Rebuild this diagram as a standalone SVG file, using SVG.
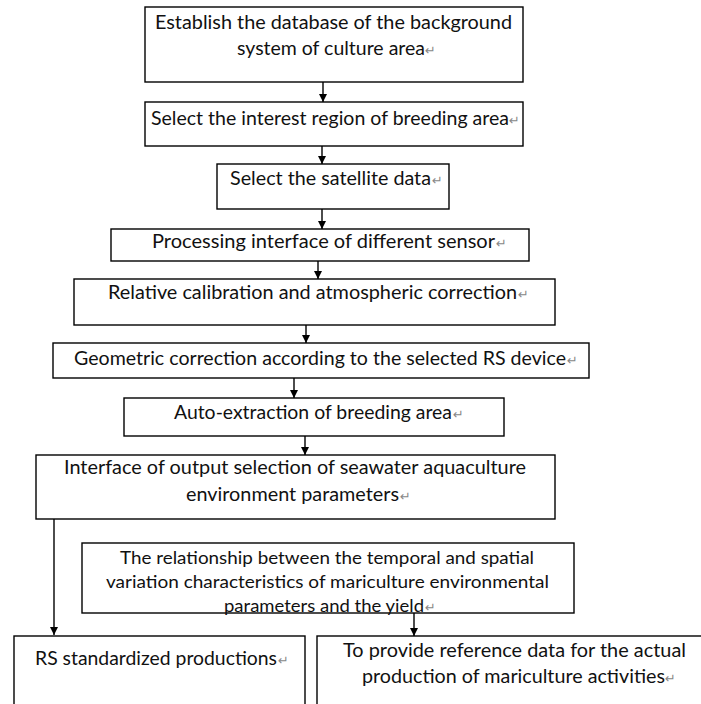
<svg xmlns="http://www.w3.org/2000/svg" width="701" height="704" viewBox="0 0 701 704">
<style>
.box{fill:#fff;stroke:#000;stroke-width:1.4}
.t{font-family:Lato,"Liberation Sans",sans-serif;font-size:19.5px;fill:#111}
.s{font-size:17.5px}
.m{font-family:"DejaVu Sans",sans-serif;font-size:13px;fill:#888}
.c{fill:none;stroke:#000;stroke-width:1.4}
</style>
<defs>
<marker id="ah" markerUnits="userSpaceOnUse" markerWidth="8" markerHeight="8" refX="8" refY="4" orient="auto">
<path d="M0,0 L8,4 L0,8 z" fill="#000"/>
</marker>
</defs>
<rect x="0" y="0" width="701" height="704" fill="#fff"/>
<g id="connectors">
<line class="c" x1="323" y1="82" x2="323" y2="102" marker-end="url(#ah)"/>
<line class="c" x1="322" y1="146" x2="322" y2="164" marker-end="url(#ah)"/>
<line class="c" x1="322" y1="209" x2="322" y2="229" marker-end="url(#ah)"/>
<line class="c" x1="318" y1="261" x2="318" y2="279" marker-end="url(#ah)"/>
<line class="c" x1="306" y1="325" x2="306" y2="343" marker-end="url(#ah)"/>
<line class="c" x1="294" y1="378" x2="294" y2="398" marker-end="url(#ah)"/>
<line class="c" x1="305" y1="436" x2="305" y2="455" marker-end="url(#ah)"/>
<line class="c" x1="54" y1="519" x2="54" y2="635" marker-end="url(#ah)"/>
<line class="c" x1="414" y1="613" x2="414" y2="636" marker-end="url(#ah)"/>
</g>
<g id="n1">
<rect class="box" x="145" y="7" width="378" height="75"/>
<text class="t" x="155" y="29" textLength="357" lengthAdjust="spacingAndGlyphs">Establish the database of the background</text>
<text class="t" x="237" y="55" textLength="188" lengthAdjust="spacingAndGlyphs">system of culture area</text>
<text class="m" x="425" y="55">↵</text>
</g>
<g id="n2">
<rect class="box" x="145" y="102" width="378" height="44"/>
<text class="t" x="151" y="125" textLength="358" lengthAdjust="spacingAndGlyphs">Select the interest region of breeding area</text>
<text class="m" x="509" y="125">↵</text>
</g>
<g id="n3">
<rect class="box" x="217" y="164" width="232" height="45"/>
<text class="t" x="230" y="185" textLength="201" lengthAdjust="spacingAndGlyphs">Select the satellite data</text>
<text class="m" x="432" y="185">↵</text>
</g>
<g id="n4">
<rect class="box" x="111" y="229" width="418" height="32"/>
<text class="t" x="152" y="248" textLength="343" lengthAdjust="spacingAndGlyphs">Processing interface of different sensor</text>
<text class="m" x="496" y="248">↵</text>
</g>
<g id="n5">
<rect class="box" x="74" y="279" width="481" height="46"/>
<text class="t" x="108" y="299" textLength="409" lengthAdjust="spacingAndGlyphs">Relative calibration and atmospheric correction</text>
<text class="m" x="518" y="299">↵</text>
</g>
<g id="n6">
<rect class="box" x="53" y="343" width="536" height="35"/>
<text class="t" x="74" y="365" textLength="492" lengthAdjust="spacingAndGlyphs">Geometric correction according to the selected RS device</text>
<text class="m" x="567" y="365">↵</text>
</g>
<g id="n7">
<rect class="box" x="124" y="398" width="380" height="38"/>
<text class="t" x="174" y="419" textLength="278" lengthAdjust="spacingAndGlyphs">Auto-extraction of breeding area</text>
<text class="m" x="453" y="419">↵</text>
</g>
<g id="n8">
<rect class="box" x="36" y="455" width="519" height="64"/>
<text class="t" x="64" y="474" textLength="462" lengthAdjust="spacingAndGlyphs">Interface of output selection of seawater aquaculture</text>
<text class="t" x="186" y="501" textLength="213" lengthAdjust="spacingAndGlyphs">environment parameters</text>
<text class="m" x="400" y="501">↵</text>
</g>
<g id="n9">
<rect class="box" x="82" y="543" width="492" height="70"/>
<text class="t s" x="120" y="564" textLength="414" lengthAdjust="spacingAndGlyphs">The relationship between the temporal and spatial</text>
<text class="t s" x="106" y="588" textLength="443" lengthAdjust="spacingAndGlyphs">variation characteristics of mariculture environmental</text>
<text class="t s" x="224" y="612" textLength="200" lengthAdjust="spacingAndGlyphs">parameters and the yield</text>
<text class="m" x="425" y="612">↵</text>
</g>
<g id="n10">
<rect class="box" x="14" y="636" width="291" height="80"/>
<text class="t" x="35" y="665" textLength="242" lengthAdjust="spacingAndGlyphs">RS standardized productions</text>
<text class="m" x="278" y="665">↵</text>
</g>
<g id="n11">
<rect class="box" x="317" y="636" width="400" height="80"/>
<text class="t" x="343" y="657" textLength="343" lengthAdjust="spacingAndGlyphs">To provide reference data for the actual</text>
<text class="t" x="362" y="683" textLength="303" lengthAdjust="spacingAndGlyphs">production of mariculture activities</text>
<text class="m" x="665" y="683">↵</text>
</g>
</svg>
